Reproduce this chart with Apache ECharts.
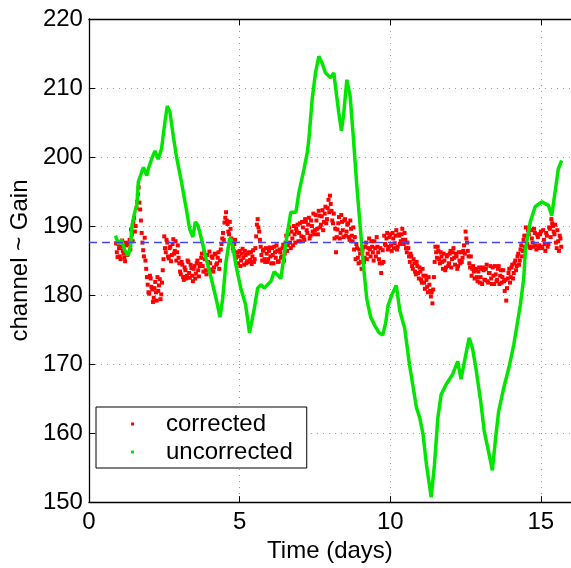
<!DOCTYPE html>
<html>
<head>
<meta charset="utf-8">
<script src="https://cdn.jsdelivr.net/npm/echarts@6/dist/echarts.min.js"></script>
<style>
html, body { margin: 0; padding: 0; background: #fff; }
#gain { width: 571px; height: 568px; }
</style>
</head>
<body>
<div id="gain"></div>
<script>
// corrected gain, sampled every 0.05 day from day 0.9
var redStart = 0.9;
var redStep = 0.05;
var redGain = [
  187.5, 185.5, 186.8, 185.2, 187.9, 186.0, 184.9, 187.2, 186.1, 188.0, 189.5, 187.8, 191.2, 190.0, 193.5, 195.6, 192.4, 189.0, 186.5, 188.3,
  183.8, 181.5, 180.2, 182.4, 180.8, 179.6, 181.9, 179.2, 180.6, 182.3, 180.1, 183.6, 188.5, 186.2, 187.6, 185.3, 187.0, 185.8, 188.1, 186.4,
  185.0, 187.2, 184.6, 183.0, 184.4, 182.2, 183.6, 182.8, 184.8, 182.5, 183.9, 182.0, 184.2, 183.1, 185.0, 182.7, 184.5, 186.0, 183.4, 185.2,
  183.0, 184.8, 186.3, 183.7, 185.4, 184.0, 185.9, 184.6, 186.2, 185.0, 187.4, 189.0, 190.5, 192.0, 190.3, 188.8, 189.6, 187.5, 186.4, 188.0,
  185.6, 184.6, 186.4, 185.0, 186.7, 184.4, 185.8, 184.9, 186.2, 185.1, 184.5, 186.5, 185.2, 188.5, 191.0, 189.2, 187.0, 185.0, 186.6, 184.8,
  186.0, 185.2, 186.9, 184.6, 185.8, 187.0, 185.4, 186.4, 184.9, 186.2, 185.6, 187.3, 186.0, 188.6, 187.2, 189.8, 186.8, 188.2, 190.0, 187.6,
  189.2, 187.8, 190.4, 188.5, 189.8, 188.0, 190.6, 189.0, 191.2, 188.6, 190.0, 191.8, 189.4, 190.8, 188.8, 191.5, 190.2, 192.3, 190.6, 192.8,
  191.0, 193.8, 194.4, 192.2, 190.4, 188.2, 186.2, 189.5, 191.3, 189.0, 190.6, 188.4, 191.0, 189.2, 190.4, 188.0, 189.6, 187.8, 186.6, 185.2,
  186.8, 184.6, 186.0, 183.8, 186.9, 185.4, 187.6, 186.0, 188.2, 185.6, 187.0, 185.0, 186.8, 188.4, 186.2, 184.6, 183.2, 186.5, 188.6, 187.2,
  189.0, 187.0, 188.8, 186.4, 188.2, 187.5, 189.4, 187.0, 188.6, 187.8, 189.6, 187.4, 188.0, 186.2, 186.8, 184.8, 185.6, 183.8, 184.6, 183.0,
  184.2, 182.4, 183.4, 181.8, 182.8, 180.9, 182.2, 180.4, 181.5, 179.8, 178.8, 182.6, 187.0, 185.4, 186.4, 184.6, 185.6, 183.8, 185.0, 184.0,
  185.8, 184.6, 186.4, 185.2, 186.8, 184.4, 185.6, 184.2, 185.0, 186.2, 185.4, 187.2, 189.2, 187.6, 185.6, 184.0, 182.8, 184.2, 182.4, 183.6,
  182.0, 184.0, 182.6, 181.6, 183.6, 182.2, 184.4, 181.8, 183.2, 182.4, 184.0, 181.6, 183.0, 182.2, 184.2, 182.8, 181.8, 183.6, 180.6, 179.2,
  182.4, 183.8, 182.6, 184.4, 183.2, 185.0, 184.2, 186.0, 185.0, 187.2, 186.4, 188.6, 189.8, 187.4, 188.8, 186.8, 188.2, 187.0, 189.0, 186.6,
  188.4, 187.2, 189.2, 186.8, 188.0, 186.4, 188.6, 187.4, 189.6, 191.0, 190.0, 188.8, 187.6, 189.4, 186.4, 188.2
];
// second pass of readings, half a step later (other side of the cloud)
var redStart2 = 0.925;
var redGain2 = [
  186.2, 187.4, 185.6, 187.0, 186.4, 185.4, 187.6, 185.8, 187.4, 186.6, 188.8, 190.6, 189.2, 192.6, 194.6, 193.4, 190.8, 187.6, 185.6, 185.0,
  182.6, 180.4, 182.8, 181.2, 179.0, 181.0, 180.4, 182.6, 181.4, 179.4, 181.8, 185.2, 186.8, 188.0, 185.6, 186.8, 184.9, 187.4, 186.0, 187.8,
  186.2, 185.4, 183.4, 184.8, 182.6, 184.0, 182.4, 185.0, 183.2, 184.4, 182.8, 183.8, 182.4, 184.6, 183.6, 184.2, 185.4, 184.2, 186.2, 183.6,
  185.8, 183.6, 184.6, 185.6, 183.4, 186.0, 184.4, 185.4, 183.8, 186.6, 188.2, 188.0, 191.2, 190.8, 189.2, 190.6, 188.2, 186.8, 187.4, 185.4,
  186.2, 185.6, 184.2, 186.0, 185.4, 186.4, 184.6, 186.0, 184.8, 186.2, 185.6, 184.8, 186.8, 190.2, 189.8, 188.0, 185.8, 186.4, 185.2, 186.8,
  184.8, 186.4, 185.6, 186.8, 184.6, 186.2, 187.2, 184.8, 186.6, 185.4, 186.8, 185.0, 187.6, 186.4, 188.8, 187.6, 189.2, 187.2, 188.8, 189.6,
  190.2, 189.0, 187.8, 190.6, 188.4, 191.0, 189.4, 190.2, 188.2, 190.8, 189.2, 188.8, 191.6, 189.6, 192.2, 189.8, 191.4, 189.4, 191.8, 190.4,
  192.6, 192.0, 193.2, 190.8, 191.8, 189.6, 188.4, 190.4, 188.2, 191.6, 189.4, 190.8, 188.6, 190.2, 188.4, 190.8, 188.6, 189.8, 188.4, 187.4,
  185.4, 186.6, 184.8, 186.4, 184.8, 187.0, 185.2, 186.8, 186.6, 187.8, 186.2, 187.8, 185.6, 187.0, 185.2, 186.8, 184.6, 184.8, 187.4, 188.2,
  186.6, 188.4, 187.2, 189.0, 186.8, 188.6, 186.6, 188.8, 187.4, 188.8, 188.0, 189.0, 186.8, 187.6, 185.6, 186.0, 184.2, 185.2, 183.4, 184.8,
  183.2, 184.0, 182.2, 183.8, 181.8, 182.8, 181.2, 182.6, 180.6, 180.4, 180.8, 184.8, 186.2, 187.0, 185.2, 186.2, 184.8, 186.0, 183.6, 185.6,
  184.2, 186.0, 184.0, 186.2, 185.4, 186.0, 183.8, 186.2, 184.6, 184.8, 186.4, 186.0, 188.2, 186.4, 184.6, 185.6, 183.8, 183.4, 183.8, 182.6,
  183.4, 181.8, 183.8, 184.0, 182.2, 183.8, 182.0, 183.2, 184.2, 181.6, 182.8, 184.2, 182.0, 183.8, 181.6, 183.6, 182.6, 182.0, 182.2, 181.0,
  183.2, 181.8, 184.0, 182.4, 184.6, 183.6, 185.6, 184.4, 186.6, 185.6, 188.0, 187.0, 188.6, 189.4, 187.0, 189.4, 187.6, 189.6, 187.2, 188.8,
  186.8, 188.8, 187.0, 189.4, 187.4, 189.0, 187.0, 189.8, 188.4, 190.4, 189.2, 190.2, 186.8, 187.8, 188.6, 187.0
];

// uncorrected gain
var greenTime = [
  0.88, 0.98, 1.08, 1.18, 1.30, 1.38, 1.43, 1.52, 1.59, 1.64, 1.75, 1.81, 1.92, 1.97, 2.08, 2.19, 2.30, 2.41, 2.52, 2.60,
  2.69, 2.80, 2.90, 3.07, 3.23, 3.34, 3.45, 3.53, 3.62, 3.73, 3.89, 4.06, 4.22, 4.35, 4.44, 4.55, 4.67, 4.74, 4.88, 5.04,
  5.20, 5.33, 5.38, 5.49, 5.60, 5.71, 5.82, 5.93, 6.04, 6.15, 6.26, 6.37, 6.48, 6.59, 6.70, 6.87, 6.97, 7.14, 7.25, 7.30,
  7.41, 7.52, 7.63, 7.74, 7.85, 8.02, 8.13, 8.18, 8.29, 8.38, 8.45, 8.56, 8.67, 8.78, 8.89, 9.00, 9.11, 9.22, 9.35, 9.50,
  9.62, 9.75, 9.85, 9.93, 10.05, 10.20, 10.32, 10.48, 10.64, 10.87, 10.98, 11.09, 11.20, 11.36, 11.47, 11.58, 11.69, 11.85, 12.07, 12.24,
  12.35, 12.51, 12.62, 12.73, 12.84, 13.00, 13.12, 13.28, 13.39, 13.50, 13.60, 13.77, 13.94, 14.10, 14.21, 14.32, 14.43, 14.49, 14.65, 14.81,
  15.03, 15.25, 15.36, 15.47, 15.58, 15.69
];
var greenGain = [
  188.6, 187.4, 188.0, 186.6, 185.7, 187.0, 190.1, 192.0, 193.0, 196.4, 197.8, 198.5, 197.3, 198.3, 199.7, 200.9, 199.7, 201.2, 205.0, 207.4,
  206.5, 203.0, 200.2, 196.4, 192.5, 189.6, 188.4, 190.6, 190.1, 188.2, 185.3, 182.4, 179.5, 176.8, 179.5, 184.8, 188.2, 187.9, 184.3, 181.0,
  178.6, 174.5, 174.3, 178.1, 181.0, 181.5, 181.0, 181.5, 182.0, 183.4, 182.9, 182.4, 185.8, 189.1, 192.0, 192.0, 194.9, 198.3, 200.7, 202.6,
  208.4, 212.2, 214.6, 213.6, 212.2, 211.5, 212.2, 210.3, 206.5, 203.8, 206.0, 211.2, 208.8, 202.6, 195.9, 190.1, 184.3, 179.5, 176.8, 175.5,
  174.6, 174.2, 176.0, 178.5, 180.0, 181.4, 177.7, 175.2, 169.9, 163.7, 162.2, 159.8, 155.5, 150.7, 155.5, 162.2, 165.6, 167.0, 168.5, 170.4,
  167.8, 171.4, 173.8, 172.3, 169.5, 164.7, 160.3, 157.0, 154.6, 159.4, 163.2, 166.6, 169.5, 172.8, 175.7, 178.6, 182.4, 186.7, 190.6, 192.8,
  193.5, 193.0, 191.5, 194.9, 198.3, 199.5
];

// mean level (dashed)
var refLevel = 187.6;
var refRange = [0, 15.5];

var xTicks = [0, 5, 10, 15];
var yTicks = [150, 160, 170, 180, 190, 200, 210, 220];

var redData = redGain.map(function (v, i) { return [redStart + i * redStep, v]; })
  .concat(redGain2.map(function (v, i) { return [redStart2 + i * redStep, v]; }));
var greenData = greenTime.map(function (t, i) { return [t, greenGain[i]]; });

var font = '"Liberation Sans", Arial, sans-serif';
var chart = echarts.init(document.getElementById('gain'));

var gridDots = { show: true, lineStyle: { color: '#9a9a9a', width: 1, type: [1, 5] } };

chart.setOption({
  animation: false,
  backgroundColor: '#fff',
  textStyle: { fontFamily: font },
  grid: { left: 88, top: 19, width: 486, height: 486 },
  legend: {
    orient: 'vertical',
    left: 96, top: 407,
    width: 215,
    padding: [5, 14, 4, 35],
    itemGap: 4,
    itemWidth: 3, itemHeight: 3,
    backgroundColor: '#fff',
    borderColor: '#000', borderWidth: 1,
    borderRadius: 0,
    textStyle: { fontSize: 24, color: '#000', fontFamily: font, padding: [0, 0, 0, 27] },
    data: [
      { name: 'corrected', icon: 'rect', itemStyle: { color: '#ff0000' } },
      { name: 'uncorrected', icon: 'rect', itemStyle: { color: '#00e600' } }
    ]
  },
  xAxis: [{
    type: 'value', min: 0, max: 16, interval: 5,
    name: 'Time (days)', nameLocation: 'middle', nameGap: 33,
    nameTextStyle: { fontSize: 24, color: '#000', fontFamily: font },
    axisLine: { show: true, onZero: false, lineStyle: { color: '#000', width: 1.3 } },
    axisTick: { show: true, inside: true, length: 6, lineStyle: { color: '#000' } },
    axisLabel: {
      fontSize: 24, color: '#000', margin: 8, showMaxLabel: false,
      formatter: function (v) { return xTicks.indexOf(v) >= 0 ? String(v) : ''; }
    },
    splitLine: gridDots
  }, {
    type: 'value', min: 0, max: 16, interval: 5, position: 'top',
    axisLine: { show: true, onZero: false, lineStyle: { color: '#000', width: 1.3 } },
    axisTick: { show: true, inside: true, length: 6, lineStyle: { color: '#000' } },
    axisLabel: { show: false },
    splitLine: { show: false }
  }],
  yAxis: {
    type: 'value', min: 150, max: 220, interval: 10,
    name: 'channel ~ Gain', nameLocation: 'middle', nameGap: 52,
    nameTextStyle: { fontSize: 24, color: '#000', fontFamily: font },
    axisLine: { show: true, onZero: false, lineStyle: { color: '#000', width: 1.3 } },
    axisTick: { show: true, inside: true, length: 6, lineStyle: { color: '#000' } },
    axisLabel: {
      fontSize: 24, color: '#000', margin: 6,
      formatter: function (v) { return yTicks.indexOf(v) >= 0 ? String(v) : ''; }
    },
    splitLine: gridDots
  },
  series: [{
    name: 'corrected',
    type: 'scatter',
    symbol: 'rect',
    symbolSize: 4,
    itemStyle: { color: '#ff0000', opacity: 1 },
    data: redData
  }, {
    name: 'uncorrected',
    type: 'line',
    showSymbol: false,
    symbol: 'rect',
    lineStyle: { color: '#00e600', width: 3.5 },
    itemStyle: { color: '#00e600' },
    data: greenData
  }, {
    name: 'mean',
    type: 'line',
    showSymbol: false,
    lineStyle: { color: '#4646e6', width: 1.5, type: [8, 5] },
    data: [[refRange[0], refLevel], [refRange[1], refLevel]]
  }]
});
</script>
</body>
</html>
